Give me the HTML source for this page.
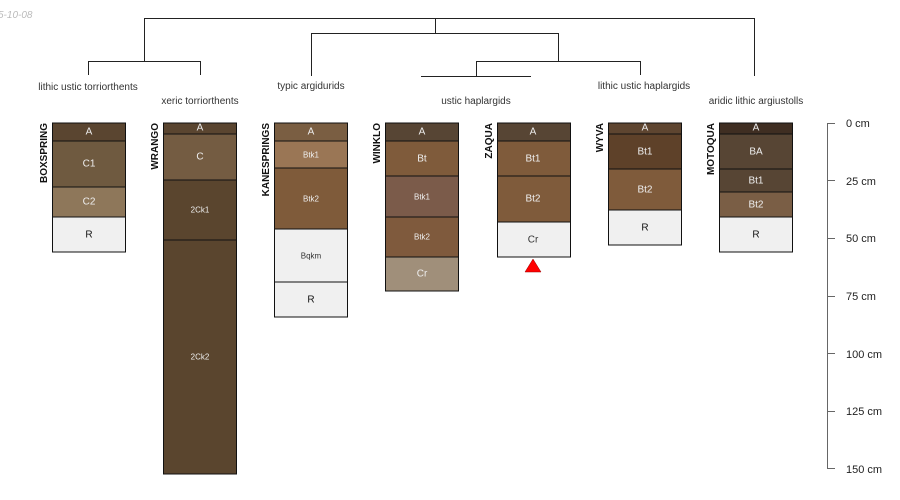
<!DOCTYPE html>
<html><head><meta charset="utf-8"><style>
html,body{margin:0;padding:0;background:#fff;width:900px;height:500px;overflow:hidden}
svg{display:block;font-family:"Liberation Sans",sans-serif}
.lab{font-size:10px;fill:#333;text-anchor:middle}
.nm{font-size:10px;font-weight:bold;fill:#111;text-anchor:end}
.hz{font-size:10px;text-anchor:middle;dominant-baseline:central}
.sm{font-size:8px}
</style></head><body>
<svg width="900" height="500" viewBox="0 0 900 500">
<text x="-2" y="18" font-size="10" font-style="italic" fill="#bbb">5-10-08</text>
<g fill="none" stroke="#222" stroke-width="1">
<path d="M144.5 61V18.5H754.5V76"/>
<path d="M88.5 75V61.5H200.5V75"/>
<path d="M435.5 18.5V33.5"/>
<path d="M311.5 76V33.5H558.5V61"/>
<path d="M476.5 76V61.5H640.5V75"/>
<path d="M421 76.5H531"/>
</g>
<text class="lab" x="88" y="90">lithic ustic torriorthents</text>
<text class="lab" x="200" y="104">xeric torriorthents</text>
<text class="lab" x="311" y="89">typic argidurids</text>
<text class="lab" x="476" y="104">ustic haplargids</text>
<text class="lab" x="644" y="89">lithic ustic haplargids</text>
<text class="lab" x="756" y="104">aridic lithic argiustolls</text>

<g stroke="#111" stroke-width="1">
<rect x="52.5" y="123" width="73" height="18" fill="#5a4530"/>
<rect x="52.5" y="141" width="73" height="46" fill="#6f5a40"/>
<rect x="52.5" y="187" width="73" height="30" fill="#8e775a"/>
<rect x="52.5" y="217" width="73" height="35" fill="#f0f0f0"/>
<rect x="163.5" y="123" width="73" height="11" fill="#5a4530"/>
<rect x="163.5" y="134" width="73" height="46" fill="#745c42"/>
<rect x="163.5" y="180" width="73" height="60" fill="#5a452e"/>
<rect x="163.5" y="240" width="73" height="234" fill="#5a452e"/>
<rect x="274.5" y="123" width="73" height="18" fill="#7a5e42"/>
<rect x="274.5" y="141" width="73" height="27" fill="#9a7655"/>
<rect x="274.5" y="168" width="73" height="61" fill="#7f5b3a"/>
<rect x="274.5" y="229" width="73" height="53" fill="#f0f0f0"/>
<rect x="274.5" y="282" width="73" height="35" fill="#f0f0f0"/>
<rect x="385.5" y="123" width="73" height="18" fill="#574534"/>
<rect x="385.5" y="141" width="73" height="35" fill="#7f5b3b"/>
<rect x="385.5" y="176" width="73" height="41" fill="#7b5b4a"/>
<rect x="385.5" y="217" width="73" height="40" fill="#7f5a3d"/>
<rect x="385.5" y="257" width="73" height="34" fill="#a08f7a"/>
<rect x="497.5" y="123" width="73" height="18" fill="#574534"/>
<rect x="497.5" y="141" width="73" height="35" fill="#7f5b3b"/>
<rect x="497.5" y="176" width="73" height="46" fill="#7f5b3b"/>
<rect x="497.5" y="222" width="73" height="35" fill="#f0f0f0"/>
<rect x="608.5" y="123" width="73" height="11" fill="#5e4530"/>
<rect x="608.5" y="134" width="73" height="35" fill="#5e4129"/>
<rect x="608.5" y="169" width="73" height="41" fill="#7f5b3b"/>
<rect x="608.5" y="210" width="73" height="35" fill="#f0f0f0"/>
<rect x="719.5" y="123" width="73" height="11" fill="#3f2e22"/>
<rect x="719.5" y="134" width="73" height="35" fill="#574534"/>
<rect x="719.5" y="169" width="73" height="23" fill="#574534"/>
<rect x="719.5" y="192" width="73" height="25" fill="#7a5e45"/>
<rect x="719.5" y="217" width="73" height="35" fill="#f0f0f0"/>
</g>
<polygon points="533,259 541,272 525,272" fill="#f00" stroke="#900" stroke-width="0.5"/>

<g class="hz" fill="#eee">
<text x="89" y="132">A</text><text x="89" y="164">C1</text><text x="89" y="202">C2</text><text x="89" y="235" fill="#111">R</text>
<text x="200" y="128">A</text><text x="200" y="157">C</text><text class="hz sm" x="200" y="210">2Ck1</text><text class="hz sm" x="200" y="357">2Ck2</text>
<text x="311" y="132">A</text><text class="hz sm" x="311" y="155">Btk1</text><text class="hz sm" x="311" y="199">Btk2</text><text class="hz sm" x="311" y="256" fill="#333">Bqkm</text><text x="311" y="300" fill="#111">R</text>
<text x="422" y="132">A</text><text x="422" y="159">Bt</text><text class="hz sm" x="422" y="197">Btk1</text><text class="hz sm" x="422" y="237">Btk2</text><text x="422" y="274">Cr</text>
<text x="533" y="132">A</text><text x="533" y="159">Bt1</text><text x="533" y="199">Bt2</text><text x="533" y="240" fill="#333">Cr</text>
<text x="645" y="128">A</text><text x="645" y="152">Bt1</text><text x="645" y="190">Bt2</text><text x="645" y="228" fill="#111">R</text>
<text x="756" y="128">A</text><text x="756" y="152">BA</text><text x="756" y="181">Bt1</text><text x="756" y="205">Bt2</text><text x="756" y="235" fill="#111">R</text>
</g>

<g class="nm">
<text transform="translate(47,123) rotate(-90)">BOXSPRING</text>
<text transform="translate(158,123) rotate(-90)">WRANGO</text>
<text transform="translate(269,123) rotate(-90)">KANESPRINGS</text>
<text transform="translate(380,123) rotate(-90)">WINKLO</text>
<text transform="translate(492,123) rotate(-90)">ZAQUA</text>
<text transform="translate(603,123) rotate(-90)">WYVA</text>
<text transform="translate(714,123) rotate(-90)">MOTOQUA</text>
</g>

<g stroke="#666" stroke-width="1" fill="none">
<path d="M827.5 123V469"/>
<path d="M827 123.5H835M827 180.5H835M827 238.5H835M827 296.5H835M827 353.5H835M827 411.5H835M827 468.5H835"/>
</g>
<g font-size="11" fill="#222">
<text x="846" y="127">0 cm</text>
<text x="846" y="185">25 cm</text>
<text x="846" y="242">50 cm</text>
<text x="846" y="300">75 cm</text>
<text x="846" y="358">100 cm</text>
<text x="846" y="415">125 cm</text>
<text x="846" y="473">150 cm</text>
</g>
</svg>
</body></html>
